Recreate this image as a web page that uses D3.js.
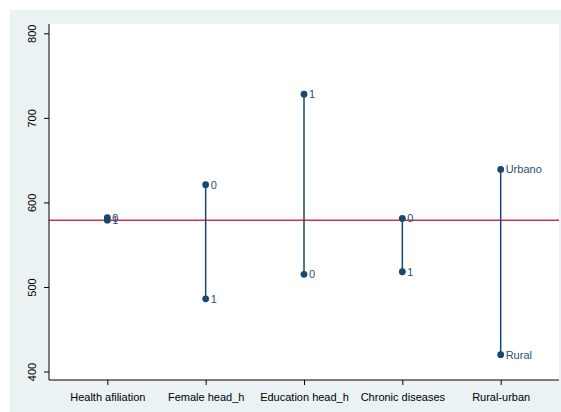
<!DOCTYPE html>
<html>
<head>
<meta charset="utf-8">
<script src="https://cdn.jsdelivr.net/npm/d3@7/dist/d3.min.js"></script>
<style>
  html, body { margin: 0; padding: 0; background: #ffffff; }
  svg { display: block; font-family: "Liberation Sans", Arial, sans-serif; }
</style>
</head>
<body>
<svg id="chart" width="561" height="412"></svg>
<script>
// Group means of the outcome by characteristic
const categories = ["Health afiliation", "Female head_h", "Education head_h", "Chronic diseases", "Rural-urban"];
const highLabels = ["0", "0", "1", "0", "Urbano"];
const highValues = [582, 621, 728, 581, 639];
const lowLabels  = ["1", "1", "0", "1", "Rural"];
const lowValues  = [579, 486, 515, 518, 420];
const overallMean = 579;
const yTicks = [400, 500, 600, 700, 800];

const navy = "#1a476f";
const svg = d3.select("#chart");

// Outer graph region
svg.append("rect").attr("x", 10).attr("y", 10).attr("width", 551).attr("height", 402)
  .attr("fill", "#eaf2f3");

const plot = { left: 49, right: 559, top: 24, bottom: 380 };
svg.append("rect").attr("x", plot.left).attr("y", plot.top)
  .attr("width", plot.right - plot.left).attr("height", plot.bottom - plot.top)
  .attr("fill", "#ffffff");

const x = d3.scaleLinear().domain([0.407, 5.593]).range([plot.left, plot.right]);
const y = d3.scaleLinear().domain([390, 811]).range([plot.bottom, plot.top]);

const rows = categories.map((c, i) => ({
  cat: c, pos: i + 1,
  hi: highValues[i], hiLab: highLabels[i],
  lo: lowValues[i], loLab: lowLabels[i]
}));

// Reference line at the overall mean
svg.append("line")
  .attr("x1", plot.left).attr("x2", plot.right)
  .attr("y1", y(overallMean)).attr("y2", y(overallMean))
  .attr("stroke", "#d7304f").attr("stroke-width", 1.6);

// Range spikes
svg.append("g").selectAll("line").data(rows).join("line")
  .attr("x1", d => x(d.pos)).attr("x2", d => x(d.pos))
  .attr("y1", d => y(d.hi)).attr("y2", d => y(d.lo))
  .attr("stroke", navy).attr("stroke-width", 1.5);

// Markers and their labels
const pts = [];
rows.forEach(d => {
  pts.push({ pos: d.pos, v: d.hi, lab: d.hiLab });
  pts.push({ pos: d.pos, v: d.lo, lab: d.loLab });
});
svg.append("g").selectAll("circle").data(pts).join("circle")
  .attr("cx", d => x(d.pos)).attr("cy", d => y(d.v)).attr("r", 3.4)
  .attr("fill", navy);
svg.append("g").selectAll("text").data(pts).join("text")
  .attr("x", d => x(d.pos) + 5).attr("y", d => y(d.v))
  .attr("dy", "0.36em")
  .attr("font-size", 11).attr("fill", "#2c5070")
  .text(d => d.lab);

// Y axis
const yAxis = svg.append("g").attr("transform", `translate(${plot.left},0)`)
  .call(d3.axisLeft(y).tickValues(yTicks).tickSize(5).tickPadding(3).tickFormat(d3.format("d")));
yAxis.select(".domain").attr("d", `M0,${plot.bottom}V${plot.top}`).attr("stroke", "#000");
yAxis.selectAll(".tick line").attr("stroke", "#000");
yAxis.selectAll(".tick text")
  .attr("font-size", 11).attr("fill", "#000").attr("font-family", "Liberation Sans, Arial, sans-serif")
  .attr("transform", "rotate(-90)").attr("x", 0).attr("y", -13)
  .attr("text-anchor", "middle").attr("dy", "0");

// X axis
const xAxis = svg.append("g").attr("transform", `translate(0,${plot.bottom})`)
  .call(d3.axisBottom(x).tickValues(rows.map(d => d.pos)).tickSize(5).tickPadding(8)
    .tickFormat((d, i) => categories[i]));
xAxis.select(".domain").attr("d", `M${plot.left},0H${plot.right}`).attr("stroke", "#000");
xAxis.selectAll(".tick line").attr("stroke", "#000");
xAxis.selectAll(".tick text")
  .attr("font-size", 11).attr("fill", "#000").attr("font-family", "Liberation Sans, Arial, sans-serif");
</script>
</body>
</html>
